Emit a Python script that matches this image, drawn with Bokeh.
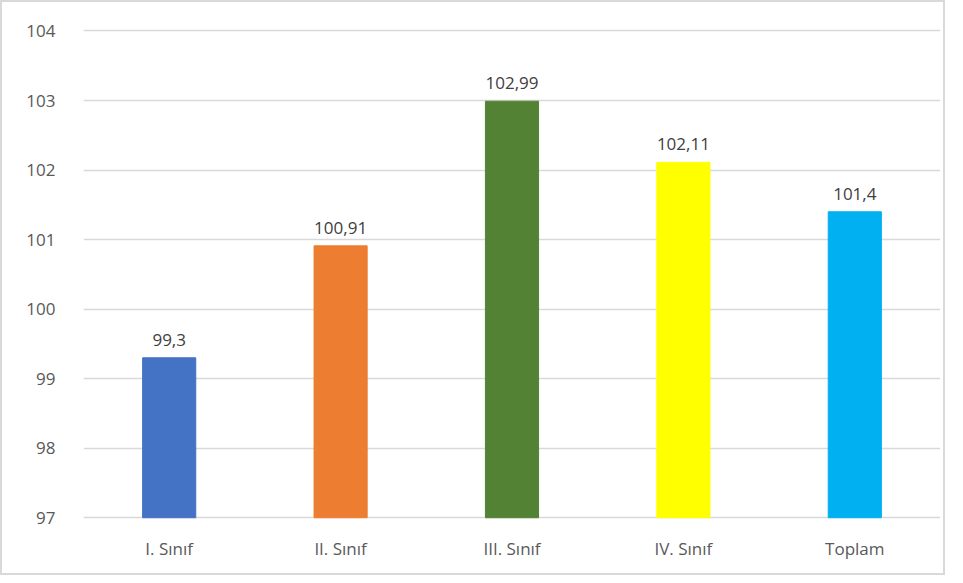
from bokeh.plotting import figure
from bokeh.models import ColumnDataSource, Range1d, FixedTicker
from bokeh.core.properties import value
from bokeh.embed import file_html
from bokeh.resources import INLINE

categories = ["I. Sınıf", "II. Sınıf", "III. Sınıf", "IV. Sınıf", "Toplam"]
values = [99.3, 100.91, 102.99, 102.11, 101.4]
labels = ["99,3", "100,91", "102,99", "102,11", "101,4"]
colors = ["#4472C4", "#ED7D31", "#548235", "#FFFF00", "#00B0F0"]
y_ticks = [97, 98, 99, 100, 101, 102, 103, 104]

src = ColumnDataSource(dict(cat=categories, val=values, lab=labels, col=colors))

p = figure(x_range=categories, y_range=Range1d(96.96, 104.05), width=945, height=575,
           output_backend="svg", toolbar_location=None,
           min_border_left=81, min_border_right=7, min_border_top=25, min_border_bottom=57)
p.outline_line_color = None
p.styles = {"border": "2px solid #D9D9D9", "box-sizing": "border-box"}
p.background_fill_color = "white"
p.border_fill_color = "white"

p.vbar(x="cat", top="val", bottom=97, width=0.31, color="col", source=src)
p.text(x="cat", y="val", text="lab", source=src, text_align="center", text_baseline="bottom",
       y_offset=-12, text_font=value("Open Sans"), text_font_size="17px", text_color="#404040")

p.yaxis.ticker = FixedTicker(ticks=y_ticks)
p.ygrid.grid_line_color = "#D9D9D9"
p.ygrid.grid_line_width = 1.5
p.xgrid.grid_line_color = None
for ax in (p.xaxis, p.yaxis):
    ax.axis_line_color = None
    ax.major_tick_line_color = None
    ax.minor_tick_line_color = None
    ax.major_label_text_font = "Open Sans"
    ax.major_label_text_font_size = "17px"
    ax.major_label_text_color = "#595959"
p.xaxis.major_label_standoff = 10
p.yaxis.major_label_standoff = 22

open("out.html", "w").write(file_html(p, INLINE))
